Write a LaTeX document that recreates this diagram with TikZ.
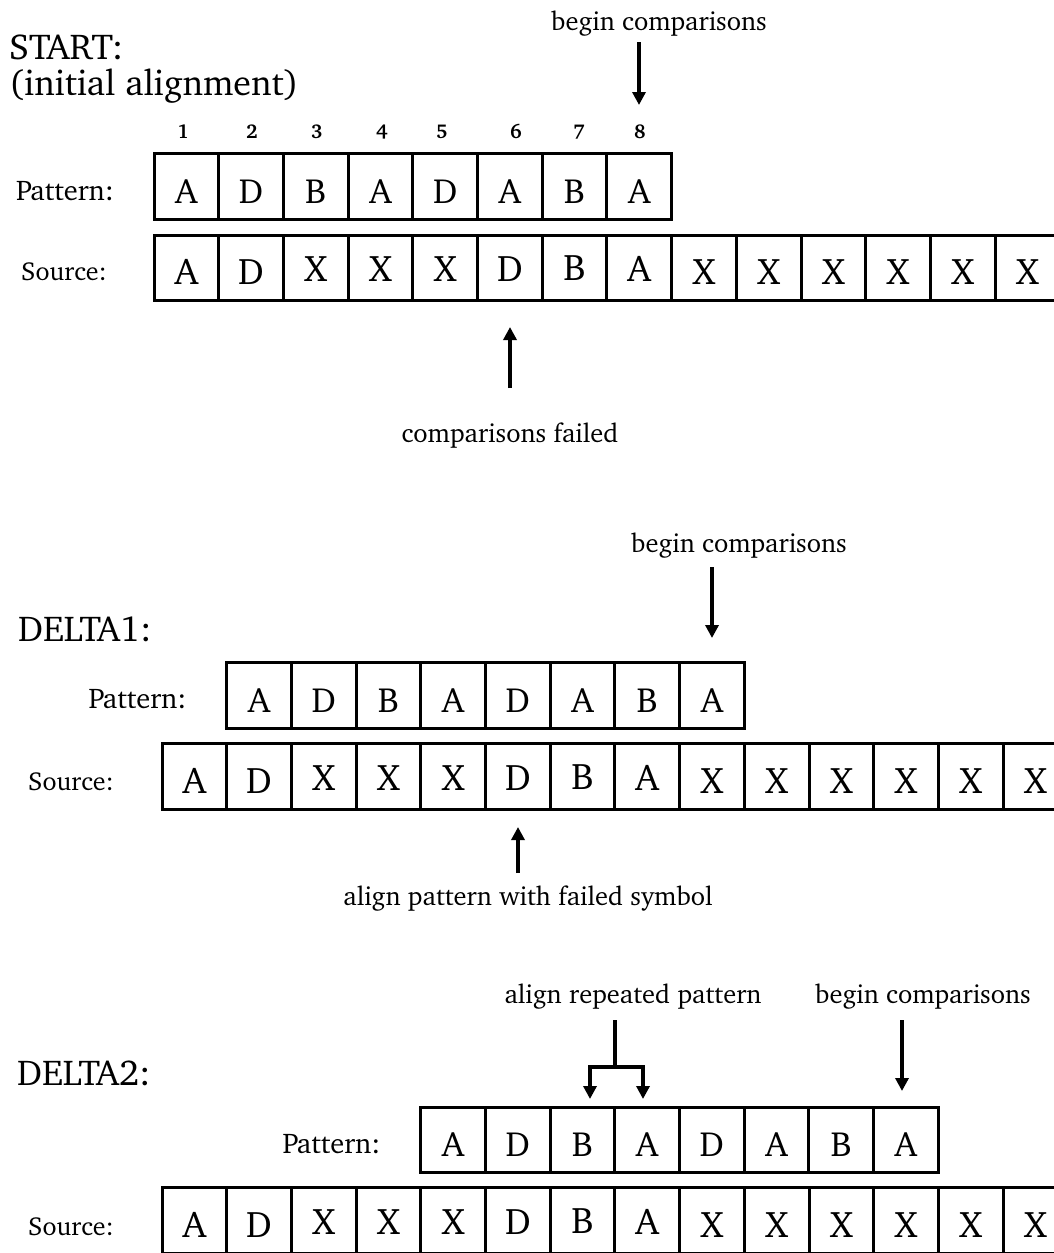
\documentclass[tikz,border=0pt]{standalone}
\usepackage[T1]{fontenc}
\usepackage{charter}
\usetikzlibrary{arrows.meta}

\tikzset{
  cell/.style={draw, line width=3pt, minimum width=64.7pt, minimum height=65.5pt,
    inner sep=0pt, text height=33.5pt, text depth=0pt},
  pcell/.style={cell, font=\fontsize{35}{38}\selectfont},
  scell/.style={cell, font=\fontsize{37}{40}\selectfont},
  lbl/.style={anchor=base, inner sep=0pt, font=\fontsize{26.5}{30}\selectfont},
  plbl/.style={lbl, font=\fontsize{28.5}{32}\selectfont},
  slbl/.style={lbl, font=\fontsize{26}{30}\selectfont},
  heading/.style={anchor=base west, inner sep=0pt, font=\fontsize{36}{40}\selectfont},
  num/.style={anchor=base, inner sep=0pt, font=\fontsize{20}{22}\selectfont\bfseries},
  arr/.style={line width=4pt, -{Triangle[length=13pt,width=13pt]}},
  bar/.style={line width=4pt},
}

\begin{document}
\begin{tikzpicture}[x=1pt,y=-1pt]
\useasboundingbox (0,0) rectangle (1053,1253);
\fill[white] (0,0) rectangle (1053,1253);

% ---------- START ----------
\node[heading] (h1) at (9,59) {START:};
\node[heading] (h1b) at (9,95) {(initial alignment)};
\node[lbl] (bc1) at (659,30) {begin comparisons};
\coordinate (bc1s) at (639,42);
\coordinate (bc1e) at (639,105);
\draw[arr] (bc1s) -- (bc1e);

\foreach \x [count=\i] in {183,252,317,382,442,516,579,640}
  \node[num] (n\i) at (\x,138) {\i};

\node[plbl] (pl1) at (65,200) {Pattern:};
\foreach \l [count=\i] in {A,D,B,A,D,A,B,A}
  \node[pcell] (p1\i) at ({154+64.7*(\i-0.5)},186.5) {\l};

\node[slbl] (sl1) at (64,280) {Source:};
\foreach \l/\r [count=\i] in {A/0,D/0,X/3,X/3,X/3,D/3,B/4,A/3,X/0,X/0,X/0,X/0,X/0,X/0}
  \node[scell] (s1\i) at ({154+64.7*(\i-0.5)},268) {\raisebox{\r pt}{\l}};

\coordinate (f1s) at (510,388);
\coordinate (f1e) at (510,327);
\draw[arr] (f1s) -- (f1e);
\node[lbl] (cf) at (510,442) {comparisons failed};

% ---------- DELTA1 ----------
\node[lbl] (bc2) at (739,552) {begin comparisons};
\coordinate (bc2s) at (712,567);
\coordinate (bc2e) at (712,638);
\draw[arr] (bc2s) -- (bc2e);
\node[heading] (h2) at (18,641) {DELTA1:};

\node[plbl] (pl2) at (137.5,708) {Pattern:};
\foreach \l [count=\i] in {A,D,B,A,D,A,B,A}
  \node[pcell] (p2\i) at ({226.7+64.7*(\i-0.5)},695.5) {\l};

\node[slbl] (sl2) at (71,790) {Source:};
\foreach \l/\r [count=\i] in {A/0,D/0,X/3,X/3,X/3,D/3,B/4,A/3,X/0,X/0,X/0,X/0,X/0,X/0}
  \node[scell] (s2\i) at ({162+64.7*(\i-0.5)},776.5) {\raisebox{\r pt}{\l}};

\coordinate (f2s) at (518,873);
\coordinate (f2e) at (518,827);
\draw[arr] (f2s) -- (f2e);
\node[lbl] (ap) at (528,905) {align pattern with failed symbol};

% ---------- DELTA2 ----------
\node[lbl] (ar) at (633,1003) {align repeated pattern};
\node[lbl] (bc3) at (923,1003) {begin comparisons};
\coordinate (rs) at (615,1020);
\coordinate (rj) at (615,1067);
\coordinate (rl) at (590,1067);
\coordinate (rr) at (643,1067);
\coordinate (rlt) at (590,1099);
\coordinate (rrt) at (643,1099);
\draw[bar] (rs) -- (rj);
\draw[arr] (rj) -- (rl) -- (rlt);
\draw[arr] (rj) -- (rr) -- (rrt);
\coordinate (bc3s) at (902,1020);
\coordinate (bc3e) at (902,1091);
\draw[arr] (bc3s) -- (bc3e);
\node[heading] (h3) at (17,1085) {DELTA2:};

\node[plbl] (pl3) at (331.5,1153) {Pattern:};
\foreach \l [count=\i] in {A,D,B,A,D,A,B,A}
  \node[pcell] (p3\i) at ({420.6+64.7*(\i-0.5)},1140) {\l};

\node[slbl] (sl3) at (71,1235) {Source:};
\foreach \l/\r [count=\i] in {A/0,D/0,X/3,X/3,X/3,D/3,B/4,A/3,X/0,X/0,X/0,X/0,X/0,X/0}
  \node[scell] (s3\i) at ({162+64.7*(\i-0.5)},1220.5) {\raisebox{\r pt}{\l}};
\end{tikzpicture}
\end{document}
